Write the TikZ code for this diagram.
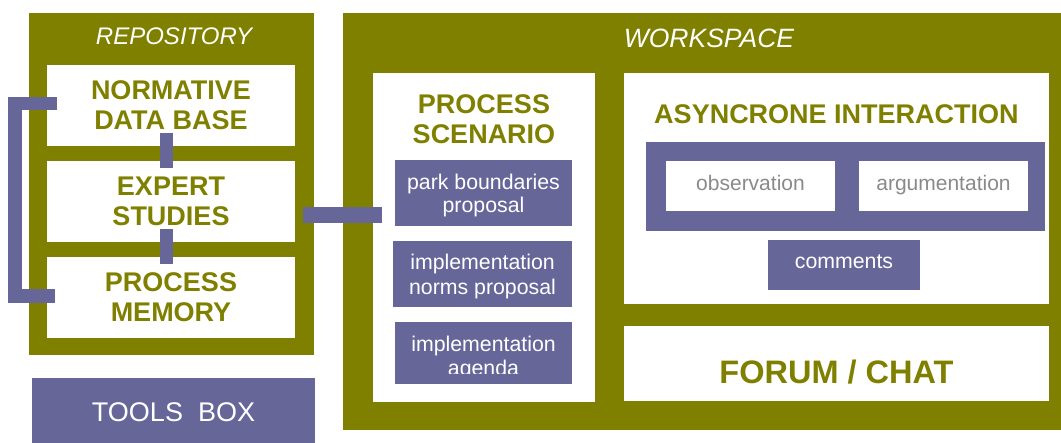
\documentclass[tikz,border=0pt]{standalone}
\usepackage{fontspec}
\setmainfont{Liberation Sans}
\definecolor{olivebg}{RGB}{128,128,0}
\definecolor{slate}{RGB}{102,102,153}
\definecolor{softgray}{RGB}{138,138,138}
\begin{document}
\begin{tikzpicture}[x=1pt,y=-1pt,
  block/.style={draw=none, inner sep=0pt, outer sep=0pt, anchor=north west},
  frame/.style={block, fill=olivebg},
  panel/.style={block, fill=white},
  chip/.style={block, fill=slate},
  chiptext/.style={text=white, align=center, inner sep=0pt, anchor=base,
    font=\fontsize{21.3}{24}\selectfont},
  heading/.style={text=olivebg, align=center, inner sep=0pt,
    font=\fontsize{27}{30}\selectfont\bfseries},
  caption/.style={text=white, inner sep=0pt, font=\fontsize{24}{28}\selectfont\itshape},
  softtext/.style={text=softgray, inner sep=0pt, anchor=base, font=\fontsize{21}{24}\selectfont},
  bar/.style={draw=slate, line width=13.5pt, line cap=butt, line join=miter}
]
\useasboundingbox (0,0) rectangle (1061,443);
\fill[white] (0,0) rectangle (1061,443);

% Repository column
\node[frame, minimum width=285pt, minimum height=342pt] (repo) at (29,13) {};
\node[caption] (repotitle) at (174,36) {REPOSITORY};
\node[panel, heading, minimum width=248pt, minimum height=81pt] (nb) at (47,65) {NORMATIVE\\DATA BASE};
\node[panel, heading, minimum width=248pt, minimum height=81pt] (es) at (47,161) {EXPERT\\STUDIES};
\node[panel, heading, minimum width=248pt, minimum height=81pt] (pm) at (47,257) {PROCESS\\MEMORY};

% Tools box
\node[chip, minimum width=283pt, minimum height=65pt] (tools) at (32,378) {};
\node[chiptext, font=\fontsize{27}{30}\selectfont] (toolstext) at (173.5,422) {TOOLS~~BOX};

% Workspace
\node[frame, minimum width=718pt, minimum height=417pt] (ws) at (343,13) {};
\node[caption, font=\fontsize{26.5}{30}\selectfont\itshape] (wstitle) at (709,38.5) {WORKSPACE};

% Process scenario column
\node[panel, minimum width=222pt, minimum height=329pt] (ps) at (373,73) {};
\node[heading] (pstitle) at (484,119) {PROCESS\\SCENARIO};
\node[chip, minimum width=177pt, minimum height=66pt] (park) at (395,160) {};
\node[chiptext, font=\fontsize{21.3}{23}\selectfont] (parktext) at (483.5,213) {park boundaries\\proposal};
\node[chip, minimum width=179pt, minimum height=66pt] (norms) at (393,241) {};
\node[chiptext, font=\fontsize{21.3}{25}\selectfont] (normstext) at (482.5,295) {implementation\\norms proposal};
\node[chip, minimum width=177pt, minimum height=62pt] (agenda) at (395,322) {};
\begin{scope}
  \clip (395,322) rectangle (572,374);
  \node[chiptext] (agendatext) at (483.5,376) {implementation\\agenda};
\end{scope}

% Asynchronous interaction panel
\node[panel, minimum width=425pt, minimum height=231pt] (async) at (624,73) {};
\node[heading] (asynctitle) at (836.5,114) {ASYNCRONE INTERACTION};
\node[block, fill=slate, minimum width=399pt, minimum height=89pt] (band) at (646,142) {};
\node[panel, minimum width=169pt, minimum height=50pt] (obs) at (666,161) {};
\node[softtext] (obstext) at (750.5,191) {observation};
\node[panel, minimum width=169pt, minimum height=50pt] (arg) at (859,161) {};
\node[softtext] (argtext) at (943.5,191) {argumentation};
\node[chip, minimum width=152pt, minimum height=50pt] (comments) at (768,240) {};
\node[chiptext] (commentstext) at (844,269) {comments};

% Forum / chat panel
\node[panel, minimum width=425pt, minimum height=75pt] (forum) at (624,326) {};
\node[heading, font=\fontsize{32.5}{36}\selectfont\bfseries] (forumtext) at ([yshift=-8.5pt]forum.center) {FORUM / CHAT};

% Connectors
\draw[bar] ([xshift=-4.5pt,yshift=13pt]nb.south) -- ([xshift=-4.5pt,yshift=-7pt]es.north);
\draw[bar] ([xshift=-4.5pt,yshift=13pt]es.south) -- ([xshift=-4.5pt,yshift=-7pt]pm.north);
\draw[bar] ([xshift=10pt,yshift=2pt]nb.west) -- ++(-42,0) |- ([xshift=8pt,yshift=1.5pt]pm.west);
\draw[bar, line width=15.5pt] ([xshift=8pt,yshift=-13.5pt]es.east) -- ([xshift=9pt,yshift=22.5pt]ps.west);
\end{tikzpicture}
\end{document}
